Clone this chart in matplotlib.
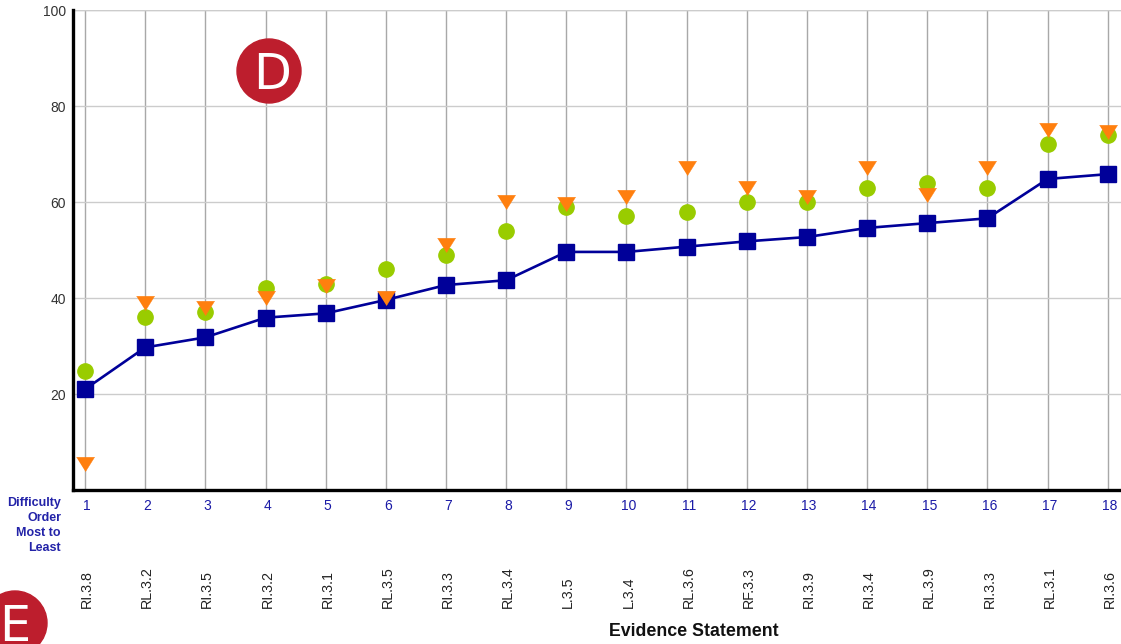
import matplotlib
matplotlib.use("Agg")
import matplotlib.pyplot as plt
from matplotlib.patches import Circle

W=1121
H=644
order=list(range(1,19))
statements=["RI.3.8","RL.3.2","RI.3.5","RI.3.2","RI.3.1","RL.3.5","RI.3.3","RL.3.4","L.3.5","L.3.4","RL.3.6","RF.3.3","RI.3.9","RI.3.4","RL.3.9","RI.3.3","RL.3.1","RI.3.6"]
blue_vals=[21,29.7,31.8,35.9,36.8,39.6,42.7,43.7,49.6,49.6,50.7,51.8,52.7,54.6,55.6,56.6,64.8,65.8]
green_vals=[24.8,36,37,42,43,46,49,54,59,57,58,60,60,63,64,63,72,74]
orange_vals=[5.5,39,38,40,42.5,40,51,60,59.5,61,67,63,61,67,61.5,67,75,74.5]
yticks=[20,40,60,80,100]

plt.rcParams['font.family']=['Liberation Sans','DejaVu Sans']

fig=plt.figure(figsize=(W/100,H/100),dpi=100)
ax=fig.add_axes([73/W,1-490/H,(W-73)/W,480/H])
ax.set_xlim(0.8,18.22)
ax.set_ylim(0,100)

ax.grid(True,axis='y',color='#cccccc',lw=1)
ax.grid(True,axis='x',color='#a8a8a8',lw=1)
ax.set_axisbelow(True)

for s in ['top','right']:
	ax.spines[s].set_visible(False)
for s in ['left','bottom']:
	ax.spines[s].set_linewidth(2.4)
	ax.spines[s].set_color('black')
ax.axhline(100,color='#cccccc',lw=1,zorder=1)

# wider than tall, like the original triangles
tri=[(-1,0.8),(1,0.8),(0,-0.8)]
ax.plot(order,green_vals,ls='none',marker='o',ms=11,color='#99cc00',zorder=3)
ax.plot(order,blue_vals,color='#000099',lw=1.9,marker='s',ms=11,zorder=4)
ax.plot(order,orange_vals,ls='none',marker=tri,ms=13,color='#ff7f0e',mec='#ff7f0e',mew=0.3,zorder=5)

ax.set_yticks(yticks)
ax.set_yticklabels([str(v) for v in yticks],fontsize=10,color='#333333')
for lab in ax.get_yticklabels():
	lab.set_va('center_baseline')
ax.tick_params(axis='y',length=0,pad=5)
ax.set_xticks(order)
ax.set_xticklabels([])
ax.tick_params(axis='x',length=0)

# labels under the axis, placed in pixels
def px(x,y):
	return x/W,1-y/H

xt=ax.get_xaxis_transform()
for i,lab,st in zip(order,order,statements):
	ax.annotate(str(lab),(i,0),xycoords=xt,xytext=(2,-16),textcoords='offset pixels',ha='center',va='center',fontsize=10,color='#1a1aa6',annotation_clip=False)
	ax.annotate(st,(i,0),xycoords=xt,xytext=(2,-118),textcoords='offset pixels',ha='center',va='bottom',rotation=90,fontsize=10.3,color='#222222',annotation_clip=False)

for y,t in zip([503,518,533,548],["Difficulty","Order","Most to","Least"]):
	x0,y0=px(61,y)
	fig.text(x0,y0,t,ha='right',va='center',fontsize=9,fontweight='bold',color='#2323a8')

x0,y0=px(694,631)
fig.text(x0,y0,"Evidence Statement",ha='center',va='center',fontsize=12.8,fontweight='bold',color='#111111')

# red badges
for cx,cy,tx,base,t in [(269,71,272,89,"D"),(15,623,15,641,"E")]:
	fig.add_artist(Circle((cx,H-cy),32,transform=None,color='#bd1e2d',zorder=6))
	fig.text(tx/W,1-base/H,t,ha='center',va='baseline',fontsize=35.5,color='white',zorder=7,family=['DejaVu Sans'])

fig.savefig("out.png",dpi=100)
